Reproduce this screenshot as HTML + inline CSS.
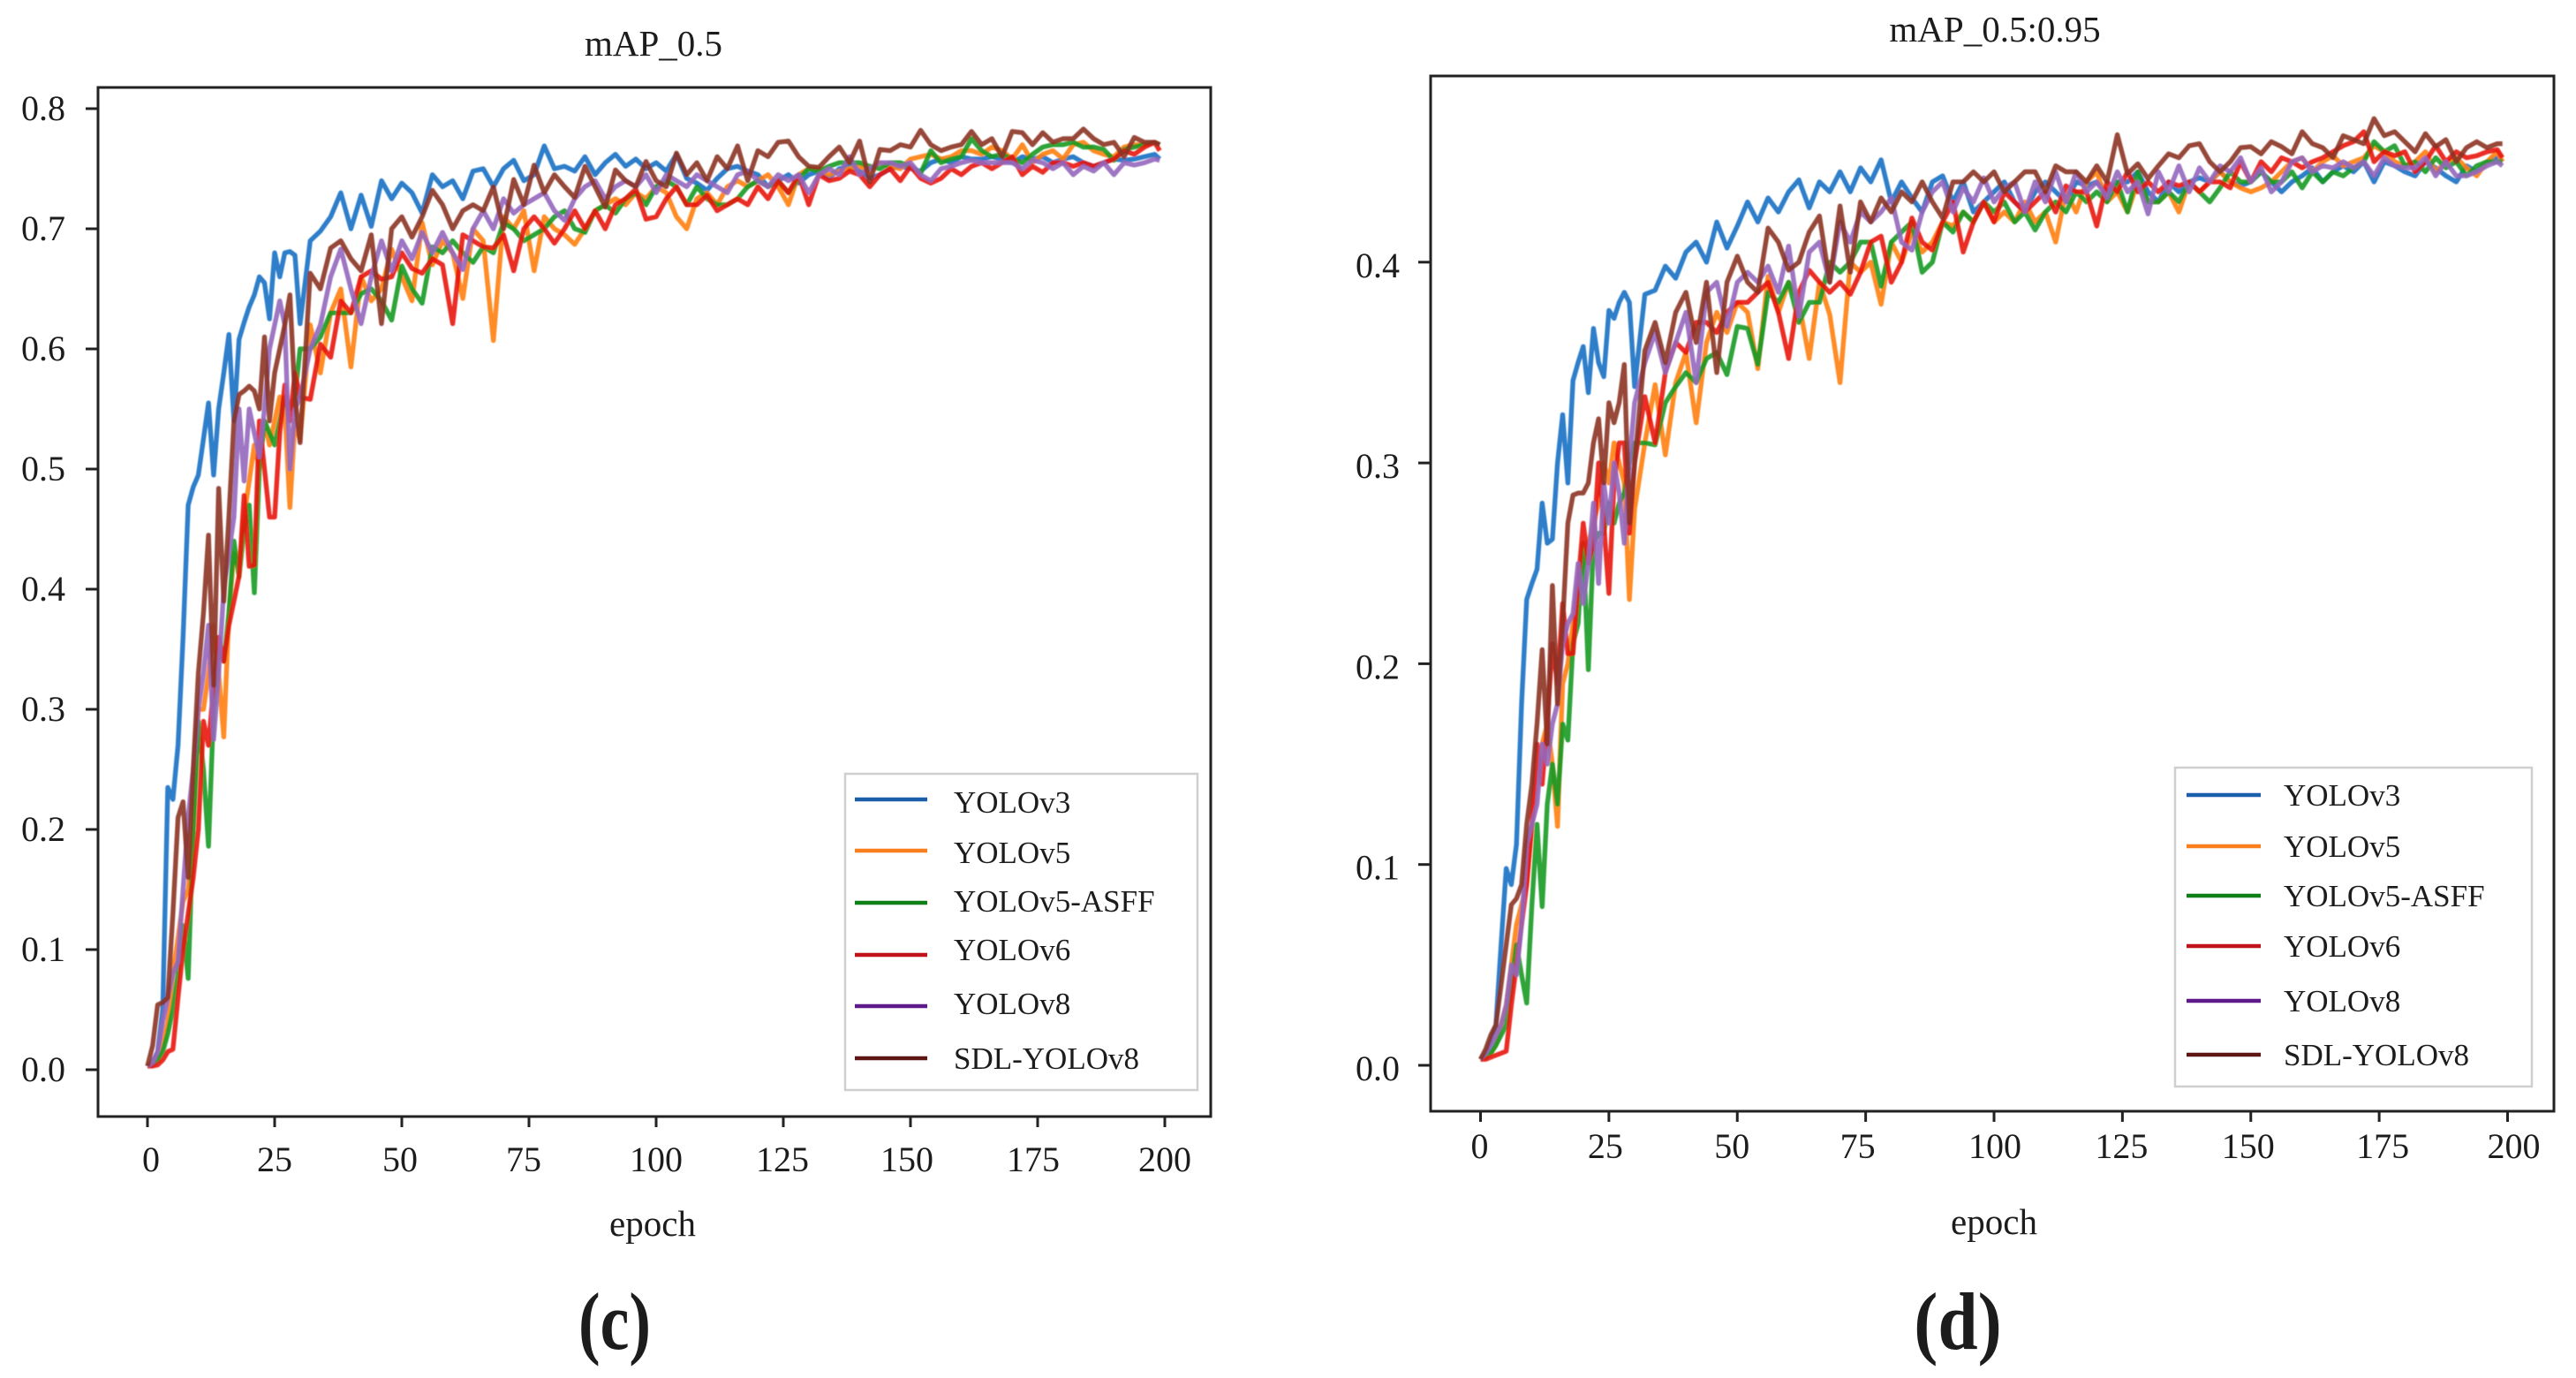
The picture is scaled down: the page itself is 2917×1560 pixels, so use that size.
<!DOCTYPE html>
<html lang="en">
<head>
<meta charset="utf-8">
<title>mAP training curves</title>
<style>
html,body{margin:0;padding:0;background:#fff;}
svg{display:block;}
text{font-family:"Liberation Serif",serif;fill:#1c1c1c;}
</style>
</head>
<body>
<svg id="figure" width="2917" height="1560" viewBox="0 0 2917 1560" xmlns="http://www.w3.org/2000/svg">
  <defs><filter id="soft" x="-2%" y="-2%" width="104%" height="104%"><feGaussianBlur stdDeviation="0.6"/></filter></defs>
  <rect width="2917" height="1560" fill="#fff"/>

  <g id="left-chart">
    <text x="740" y="63" font-size="41" text-anchor="middle">mAP_0.5</text>
    <rect x="111" y="99" width="1260" height="1165" fill="none" stroke="#222" stroke-width="3"/>
    <text x="739" y="1399" font-size="41" text-anchor="middle">epoch</text>
    <g>
      <rect x="957" y="876" width="399" height="358" fill="#fff" stroke="#cfcfcf" stroke-width="2.5"/>
      <line x1="968" x2="1050" y1="905" y2="905" stroke="#1b5faa" stroke-width="4.5"/>
      <text x="1080" y="920" font-size="35">YOLOv3</text>
      <line x1="968" x2="1050" y1="963" y2="963" stroke="#f97f1e" stroke-width="4.5"/>
      <text x="1080" y="977" font-size="35">YOLOv5</text>
      <line x1="968" x2="1050" y1="1022" y2="1022" stroke="#0f7f17" stroke-width="4.5"/>
      <text x="1080" y="1032" font-size="35">YOLOv5-ASFF</text>
      <line x1="968" x2="1050" y1="1081" y2="1081" stroke="#c0141a" stroke-width="4.5"/>
      <text x="1080" y="1087" font-size="35">YOLOv6</text>
      <line x1="968" x2="1050" y1="1139" y2="1139" stroke="#5e1a8a" stroke-width="4.5"/>
      <text x="1080" y="1148" font-size="35">YOLOv8</text>
      <line x1="968" x2="1050" y1="1198" y2="1198" stroke="#5e1512" stroke-width="4.5"/>
      <text x="1080" y="1210" font-size="35">SDL-YOLOv8</text>
    </g>
  </g>

  <g id="right-chart">
    <text x="2259" y="47" font-size="41" text-anchor="middle">mAP_0.5:0.95</text>
    <rect x="1620" y="86" width="1272" height="1172" fill="none" stroke="#222" stroke-width="3"/>
    <text x="2258" y="1397" font-size="41" text-anchor="middle">epoch</text>
    <g>
      <rect x="2463" y="869" width="404" height="361" fill="#fff" stroke="#cfcfcf" stroke-width="2.5"/>
      <line x1="2476" x2="2560" y1="900" y2="900" stroke="#1b5faa" stroke-width="4.5"/>
      <text x="2586" y="912" font-size="35">YOLOv3</text>
      <line x1="2476" x2="2560" y1="958" y2="958" stroke="#f97f1e" stroke-width="4.5"/>
      <text x="2586" y="970" font-size="35">YOLOv5</text>
      <line x1="2476" x2="2560" y1="1014" y2="1014" stroke="#0f7f17" stroke-width="4.5"/>
      <text x="2586" y="1026" font-size="35">YOLOv5-ASFF</text>
      <line x1="2476" x2="2560" y1="1071" y2="1071" stroke="#c0141a" stroke-width="4.5"/>
      <text x="2586" y="1083" font-size="35">YOLOv6</text>
      <line x1="2476" x2="2560" y1="1133" y2="1133" stroke="#5e1a8a" stroke-width="4.5"/>
      <text x="2586" y="1145" font-size="35">YOLOv8</text>
      <line x1="2476" x2="2560" y1="1194" y2="1194" stroke="#5e1512" stroke-width="4.5"/>
      <text x="2586" y="1206" font-size="35">SDL-YOLOv8</text>
    </g>
  </g>

  <text transform="translate(696 1527) scale(1 1.25)" font-size="74" font-weight="bold" text-anchor="middle">(c)</text>
  <text transform="translate(2217 1527) scale(1.1 1.25)" font-size="74" font-weight="bold" text-anchor="middle">(d)</text>
</svg>

<script>
const epochs = [0,1,2,3,4,5,6,7,8,9,10,11,12,13,14,15,16,17,18,19,20,21,22,23,24,25,26,27,28,29,30,
32,34,36,38,40,42,44,46,48,50,52,54,56,58,60,
62,64,66,68,70,72,74,76,78,80,82,84,86,88,90,
92,94,96,98,100,102,104,106,108,110,112,114,116,118,120,
122,124,126,128,130,132,134,136,138,140,142,144,146,148,150,
152,154,156,158,160,162,164,166,168,170,172,174,176,178,180,
182,184,186,188,190,192,194,196,198,199];

const xTickLabels = ["0","25","50","75","100","125","150","175","200"];
const leftYTickLabels = ["0.0","0.1","0.2","0.3","0.4","0.5","0.6","0.7","0.8"];
const rightYTickLabels = ["0.0","0.1","0.2","0.3","0.4"];
const seriesNames = ["yolov3","yolov5","yolov5-asff","yolov6","yolov8","sdl-yolov8"];

const leftYolov3 = [.003,.006,.015,.05,.235,.225,.27,.36,.47,.485,.495,.525,.555,.495,.55,.58,.612,.54,.608,.622,.635,.645,.66,.655,.625,.68,.66,.68,.681,.678,.621,
.69,.698,.71,.73,.70,.728,.702,.74,.725,.738,.73,.713,.745,.735,.74,
.725,.748,.75,.735,.75,.757,.74,.745,.769,.75,.752,.748,.76,.745,.755,
.762,.752,.758,.75,.755,.748,.762,.742,.738,.732,.742,.75,.752,.748,.745,
.735,.74,.745,.738,.745,.748,.742,.75,.752,.748,.742,.745,.75,.752,.75,
.748,.755,.758,.755,.76,.758,.758,.76,.758,.755,.76,.758,.76,.755,.758,
.76,.755,.752,.755,.758,.757,.758,.76,.762,.758];
const leftYolov5 = [.003,.005,.01,.02,.04,.08,.11,.14,.15,.2,.3,.3,.33,.37,.33,.277,.38,.43,.42,.46,.49,.52,.5,.54,.52,.54,.56,.55,.468,.54,.524,
.62,.58,.63,.65,.585,.66,.64,.65,.683,.66,.64,.705,.67,.69,.68,
.642,.70,.69,.607,.71,.70,.715,.665,.71,.70,.695,.687,.70,.715,.72,
.725,.72,.73,.725,.735,.73,.71,.70,.725,.73,.72,.735,.74,.735,.74,
.745,.735,.72,.745,.75,.75,.745,.748,.75,.752,.748,.755,.752,.75,.758,
.76,.762,.758,.76,.765,.765,.762,.768,.765,.758,.77,.755,.762,.765,.758,
.77,.772,.765,.762,.76,.768,.77,.77,.772,.77];
const leftYolov5Asff = [.003,.004,.008,.015,.03,.05,.08,.12,.076,.2,.29,.25,.186,.30,.35,.34,.38,.44,.41,.45,.47,.397,.5,.54,.53,.52,.54,.56,.55,.56,.60,
.60,.61,.63,.63,.63,.646,.65,.64,.624,.669,.65,.638,.685,.68,.69,
.68,.672,.685,.68,.705,.70,.69,.695,.70,.71,.715,.70,.697,.715,.72,
.713,.725,.73,.72,.735,.74,.735,.72,.735,.725,.72,.72,.725,.735,.74,
.735,.74,.73,.742,.75,.748,.752,.755,.755,.755,.752,.75,.755,.755,.752,
.746,.765,.755,.758,.76,.775,.765,.76,.762,.758,.755,.762,.768,.77,.77,
.772,.768,.768,.766,.757,.766,.768,.77,.772,.77];
const leftYolov6 = [.003,.003,.004,.008,.015,.017,.06,.10,.13,.16,.2,.29,.27,.32,.36,.34,.37,.39,.411,.478,.419,.42,.54,.50,.46,.46,.53,.57,.54,.58,.56,
.558,.604,.593,.64,.63,.66,.665,.658,.66,.68,.667,.663,.675,.67,.621,
.695,.69,.685,.684,.695,.665,.70,.71,.70,.688,.70,.715,.70,.715,.70,
.72,.725,.733,.708,.71,.725,.735,.72,.72,.728,.715,.72,.725,.72,.735,
.725,.74,.73,.745,.72,.745,.74,.742,.748,.745,.735,.745,.75,.74,.752,
.742,.738,.742,.75,.745,.752,.755,.75,.755,.76,.745,.752,.747,.755,.755,
.752,.755,.752,.755,.758,.765,.762,.768,.772,.765];
const leftYolov8 = [.003,.006,.015,.04,.06,.08,.09,.15,.21,.25,.3,.33,.37,.275,.33,.40,.43,.46,.55,.49,.55,.53,.51,.55,.60,.62,.64,.62,.50,.55,.56,
.60,.62,.66,.683,.65,.621,.66,.69,.665,.69,.675,.697,.68,.697,.68,
.666,.70,.715,.70,.725,.713,.72,.725,.73,.715,.707,.725,.735,.74,.725,
.735,.74,.735,.745,.73,.745,.74,.735,.745,.74,.735,.73,.745,.748,.74,
.735,.745,.74,.745,.73,.745,.75,.745,.76,.745,.75,.755,.755,.752,.755,
.745,.74,.75,.752,.755,.757,.755,.755,.755,.755,.75,.757,.755,.75,.755,
.745,.752,.748,.755,.745,.755,.753,.755,.758,.757];
const leftSdlYolov8 = [.003,.02,.054,.056,.06,.13,.21,.223,.16,.25,.33,.38,.445,.32,.484,.39,.46,.54,.562,.565,.569,.565,.55,.61,.54,.58,.60,.62,.645,.56,.522,
.663,.65,.684,.69,.675,.665,.695,.621,.70,.71,.693,.71,.732,.72,.70,
.715,.72,.715,.735,.70,.741,.72,.753,.73,.745,.735,.726,.752,.735,.718,
.749,.74,.735,.756,.74,.735,.763,.745,.755,.74,.76,.75,.769,.74,.765,
.76,.772,.773,.76,.752,.751,.76,.768,.755,.773,.739,.766,.765,.77,.768,
.782,.77,.765,.768,.77,.781,.77,.775,.76,.781,.78,.77,.78,.772,.775,
.775,.783,.775,.77,.772,.76,.776,.772,.772,.77];

const rightYolov3 = [.003,.006,.012,.02,.06,.098,.09,.11,.18,.232,.24,.247,.28,.26,.262,.30,.324,.29,.341,.35,.358,.335,.367,.35,.343,.376,.372,.38,.385,.38,.338,
.384,.386,.398,.392,.405,.41,.40,.42,.407,.418,.43,.42,.432,.425,.435,
.441,.427,.44,.435,.445,.435,.447,.44,.451,.43,.44,.432,.425,.44,.443,
.43,.44,.425,.43,.435,.44,.43,.425,.435,.44,.435,.43,.44,.438,.44,
.435,.44,.44,.445,.435,.43,.44,.435,.44,.442,.44,.445,.44,.438,.44,
.445,.44,.435,.44,.443,.447,.44,.445,.448,.445,.45,.44,.45,.448,.445,
.443,.45,.447,.443,.44,.448,.445,.45,.452,.45];
const rightYolov5 = [.003,.004,.006,.01,.02,.03,.05,.07,.08,.09,.12,.14,.16,.17,.15,.119,.19,.2,.22,.24,.25,.26,.27,.28,.3,.29,.31,.3,.29,.232,.277,
.31,.339,.304,.34,.355,.32,.36,.375,.365,.38,.375,.347,.393,.375,.39,
.38,.352,.39,.374,.34,.40,.395,.40,.379,.41,.40,.415,.405,.41,.42,
.418,.425,.42,.43,.42,.425,.42,.43,.42,.425,.41,.435,.425,.44,.445,
.43,.435,.425,.44,.43,.43,.435,.425,.44,.435,.44,.445,.44,.437,.435,
.437,.44,.445,.45,.452,.445,.45,.453,.448,.45,.452,.458,.455,.45,.448,
.45,.455,.445,.45,.452,.447,.443,.45,.455,.45];
const rightYolov5Asff = [.003,.004,.006,.01,.015,.02,.04,.06,.045,.031,.08,.12,.079,.13,.15,.13,.17,.162,.21,.22,.26,.197,.26,.265,.265,.28,.27,.28,.285,.30,.31,
.31,.309,.33,.338,.345,.34,.352,.355,.344,.368,.367,.349,.385,.38,.39,
.37,.38,.38,.40,.395,.40,.41,.41,.388,.41,.415,.42,.395,.40,.42,
.415,.425,.42,.43,.425,.43,.42,.425,.416,.425,.43,.425,.435,.43,.435,
.43,.44,.425,.445,.43,.43,.435,.43,.44,.435,.43,.437,.445,.44,.44,
.445,.44,.44,.445,.437,.445,.44,.445,.443,.447,.45,.46,.455,.458,.448,
.45,.445,.452,.447,.45,.443,.448,.45,.45,.45];
const rightYolov6 = [.003,.003,.004,.005,.006,.007,.03,.05,.07,.09,.12,.16,.14,.17,.21,.19,.23,.205,.205,.24,.27,.25,.26,.30,.27,.235,.29,.31,.31,.265,.30,
.333,.31,.345,.36,.355,.37,.37,.365,.375,.38,.38,.385,.39,.375,.352,
.385,.396,.39,.385,.39,.384,.395,.41,.413,.39,.40,.422,.41,.406,.42,
.43,.405,.42,.43,.42,.435,.43,.425,.43,.435,.425,.438,.435,.435,.418,
.44,.435,.445,.435,.44,.435,.44,.438,.44,.435,.44,.44,.437,.45,.44,
.45,.445,.452,.45,.447,.45,.452,.455,.458,.46,.465,.45,.455,.453,.455,
.445,.45,.458,.45,.455,.452,.453,.455,.456,.452];
const rightYolov8 = [.003,.006,.01,.015,.02,.03,.05,.045,.07,.11,.12,.13,.16,.15,.17,.18,.21,.22,.225,.25,.23,.25,.28,.24,.29,.27,.30,.285,.26,.30,.33,
.35,.365,.345,.36,.375,.34,.385,.39,.368,.39,.395,.39,.398,.385,.408,
.373,.405,.41,.39,.42,.41,.425,.42,.425,.432,.41,.406,.425,.435,.44,
.425,.437,.43,.442,.43,.437,.44,.425,.44,.43,.445,.43,.445,.435,.44,
.432,.445,.435,.44,.424,.445,.435,.448,.435,.447,.44,.448,.445,.452,.44,
.447,.435,.44,.45,.452,.445,.448,.447,.45,.447,.45,.443,.452,.448,.447,
.447,.452,.443,.45,.443,.443,.445,.448,.45,.448];
const rightSdlYolov8 = [.003,.008,.015,.02,.04,.06,.08,.083,.09,.12,.14,.17,.207,.16,.239,.18,.22,.27,.284,.285,.285,.29,.31,.322,.29,.33,.32,.33,.349,.27,.30,
.356,.37,.35,.375,.385,.36,.39,.345,.39,.403,.39,.385,.417,.41,.396,
.40,.415,.423,.39,.428,.395,.43,.42,.432,.425,.435,.43,.44,.43,.422,
.44,.44,.445,.44,.445,.435,.44,.445,.445,.435,.448,.445,.445,.44,.448,
.44,.4635,.444,.449,.4415,.448,.454,.452,.458,.459,.45,.445,.45,.457,.4575,
.454,.46,.4575,.454,.465,.459,.457,.452,.463,.461,.459,.4715,.463,.465,.46,
.455,.464,.4575,.461,.45,.457,.46,.457,.459,.459];

const SVGNS = "http://www.w3.org/2000/svg";
const lineColors = ["#1470c4","#ff7f0e","#149a24","#e8150f","#9467bd","#8c3324"];

function drawChart(hostId, prefix, geom, seriesList, yLabels) {
  const host = document.getElementById(hostId);
  const xScale = function (e) { return geom.x0 + e * geom.xPerEpoch; };
  const yScale = function (v) { return geom.y0 - v * geom.yPerUnit; };

  const marks = document.createElementNS(SVGNS, "g");
  
  
  marks.setAttribute("filter", "url(#soft)");
  host.appendChild(marks);

  seriesList.forEach(function (values, s) {
    const pts = values.map(function (v, i) {
      return xScale(epochs[i]).toFixed(1) + "," + yScale(v).toFixed(1);
    }).join(" ");
    const line = document.createElementNS(SVGNS, "polyline");
    
    
    line.setAttribute("points", pts);
    line.setAttribute("fill", "none");
    line.setAttribute("stroke", lineColors[s]);
    line.setAttribute("stroke-width", "5.4");
    line.setAttribute("stroke-opacity", "0.9");
    line.setAttribute("stroke-linejoin", "round");
    marks.appendChild(line);
  });

  xTickLabels.forEach(function (label, k) {
    const px = xScale(parseFloat(label));
    const tick = document.createElementNS(SVGNS, "line");
    
    
    tick.setAttribute("x1", px);
    tick.setAttribute("x2", px);
    tick.setAttribute("y1", geom.bottom);
    tick.setAttribute("y2", geom.bottom + 12);
    tick.setAttribute("stroke", "#222");
    tick.setAttribute("stroke-width", "3");
    host.appendChild(tick);
    const txt = document.createElementNS(SVGNS, "text");
    
    
    txt.setAttribute("x", px + geom.xLabelNudge[k]);
    txt.setAttribute("y", geom.xLabelBase);
    txt.setAttribute("font-size", "40");
    txt.setAttribute("text-anchor", "middle");
    txt.textContent = label;
    host.appendChild(txt);
  });

  yLabels.forEach(function (label) {
    const py = yScale(parseFloat(label));
    const tick = document.createElementNS(SVGNS, "line");
    
    
    tick.setAttribute("x1", geom.left - 14);
    tick.setAttribute("x2", geom.left);
    tick.setAttribute("y1", py);
    tick.setAttribute("y2", py);
    tick.setAttribute("stroke", "#222");
    tick.setAttribute("stroke-width", "3");
    host.appendChild(tick);
    const txt = document.createElementNS(SVGNS, "text");
    
    
    txt.setAttribute("x", geom.yLabelEnd);
    txt.setAttribute("y", py + geom.yLabelDrop);
    txt.setAttribute("font-size", "40");
    txt.setAttribute("text-anchor", "end");
    txt.textContent = label;
    host.appendChild(txt);
  });
}

drawChart("left-chart", "map-50",
  {x0:167, xPerEpoch:5.76, y0:1211, yPerUnit:1360, left:111, bottom:1264, xLabelBase:1326, yLabelEnd:74, yLabelDrop:13,
   xLabelNudge:[4,0,-2,-6,0,-1,-4,-5,0]},
  [leftYolov3,leftYolov5,leftYolov5Asff,leftYolov6,leftYolov8,leftSdlYolov8],
  leftYTickLabels);

drawChart("right-chart", "map-50-95",
  {x0:1676.5, xPerEpoch:5.815, y0:1206, yPerUnit:2273, left:1620, bottom:1258, xLabelBase:1311, yLabelEnd:1585, yLabelDrop:17,
   xLabelNudge:[-1,-4,-6,-9,1,-1,-3,4,7]},
  [rightYolov3,rightYolov5,rightYolov5Asff,rightYolov6,rightYolov8,rightSdlYolov8],
  rightYTickLabels);
</script>
</body>
</html>
